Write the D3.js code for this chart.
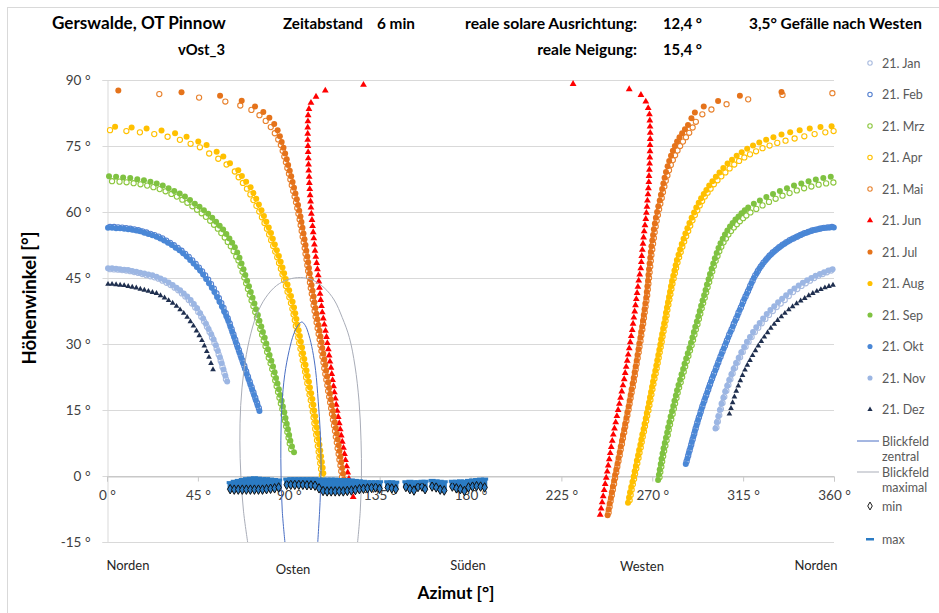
<!DOCTYPE html>
<html><head><meta charset="utf-8">
<script src="https://cdn.jsdelivr.net/npm/d3@7"></script>
<style>
body{margin:0;background:#fff;}
svg{display:block;font-family:Lato,"Open Sans",sans-serif;}
</style></head><body>
<svg id="chart" width="939" height="613"></svg>
<script>
// ---------- DATA (azimut °, höhenwinkel °) ----------
const xTicks = [0,45,90,135,180,225,270,315,360];
const yTicks = [-15,0,15,30,45,60,75,90];
const compass = ["Norden","Osten","Süden","Westen","Norden"];
const legendNames = ["21. Jan","21. Feb","21. Mrz","21. Apr","21. Mai","21. Jun","21. Jul","21. Aug","21. Sep","21. Okt","21. Nov","21. Dez","Blickfeld zentral","Blickfeld maximal","min","max"];

const jan = [[1.5,47.0],[3.5,46.95],[5.5,46.9],[7.5,46.8],[9.5,46.7],[11.5,46.55],[13.5,46.35],[15.5,46.15],[17.5,45.9],[19.5,45.65],[21.5,45.4],[23.5,45.15],[25.5,44.85],[27.5,44.4],[29.5,43.9],[31.5,43.4],[33.5,42.8],[35.3,42.2],[37.1,41.5],[38.8,40.8],[40.5,40.0],[42.1,39.2],[43.7,38.3],[45.2,37.3],[46.7,36.2],[48.1,35.1],[49.5,33.9],[50.8,32.7],[52.0,31.5],[53.2,30.2],[54.3,28.9],[55.3,27.6],[56.3,26.2],[57.2,24.8],[58.1,23.4],[58.9,22.0],
[301.8,11.0],[302.5,12.4],[303.2,13.8],[304.0,15.2],[304.8,16.6],[305.7,18.0],[306.7,19.4],[307.7,20.7],[308.7,22.0],[309.8,23.3],[311.0,24.6],[312.2,25.8],[313.5,27.0],[314.8,28.2],[316.2,29.4],[317.7,30.5],[319.2,31.6],[320.8,32.7],[322.5,33.7],[324.2,34.7],[326.0,35.7],[327.8,36.6],[329.7,37.5],[331.6,38.4],[333.6,39.2],[335.6,40.0],[337.6,40.9],[339.7,41.8],[341.8,42.5],[343.9,43.2],[346.0,43.8],[348.1,44.4],[350.2,45.0],[352.3,45.5],[354.4,45.9],[356.5,46.3],[358.6,46.7]];

const feb = [[1.5,56.6],[3.5,56.6],[5.5,56.5],[7.5,56.45],[9.5,56.35],[11.5,56.2],[13.5,56.05],[15.5,55.85],[17.5,55.6],[19.5,55.35],[21.5,55.05],[23.5,54.75],[25.5,54.4],[27.4,54.0],[29.3,53.5],[31.2,53.0],[33.1,52.45],[35.0,51.85],[36.9,51.2],[38.7,50.5],[40.5,49.8],[42.2,49.0],[43.9,48.2],[45.5,47.35],[47.1,46.5],[48.6,45.6],[50.1,44.6],[51.5,43.6],[52.9,42.6],[54.2,41.5],[55.4,40.4],[56.6,39.3],[57.7,38.2],[58.8,37.0],[59.8,35.8],[60.8,34.6],[61.7,33.4],[62.6,32.2],[63.5,31.0],[64.4,29.8],[65.3,28.6],[66.2,27.4],[67.1,26.2],[68.0,25.0],[68.9,23.8],[69.8,22.6],[70.7,21.4],[71.6,20.2],[72.5,19.0],[73.4,17.8],[74.3,16.6],[75.2,15.4],
[287.0,3.3],[287.8,4.6],[288.5,5.8],[289.3,7.1],[290.0,8.3],[290.8,9.6],[291.5,10.8],[292.3,12.1],[293.1,13.3],[294.0,14.6],[294.8,15.8],[295.8,17.1],[296.7,18.3],[297.7,19.6],[298.6,20.8],[299.6,22.1],[300.6,23.3],[301.7,24.6],[302.7,25.8],[303.8,27.1],[304.8,28.3],[306.0,29.6],[307.0,30.8],[308.1,32.1],[309.3,33.3],[310.4,34.6],[311.6,35.8],[312.7,37.1],[313.9,38.3],[315.0,39.6],[316.2,40.8],[317.4,42.0],[318.5,43.2],[319.7,44.4],[321.0,45.6],[322.3,46.6],[323.7,47.6],[325.1,48.5],[326.6,49.3],[328.1,50.1],[329.7,50.8],[331.3,51.4],[332.9,52.0],[334.6,52.6],[336.3,53.1],[338.1,53.6],[339.9,54.0],[341.7,54.4],[343.5,54.8],[345.4,55.2],[347.3,55.5],[349.2,55.8],[351.1,56.0],[353.0,56.2],[355.0,56.4],[357.0,56.5],[359.0,56.6]];

const mrz = [[2.5,67.0],[6.2,66.9],[9.7,66.75],[13.2,66.55],[16.6,66.3],[19.9,66.0],[23.0,65.65],[26.1,65.2],[29.0,64.7],[31.9,64.1],[34.6,63.5],[37.3,62.8],[39.8,62.1],[42.3,61.3],[44.6,60.5],[46.9,59.7],[49.0,58.9],[51.1,58.0],[53.0,57.1],[54.9,56.2],[56.6,55.2],[58.3,54.2],[59.8,53.2],[61.3,52.2],[62.7,51.1],[64.0,49.9],[65.1,49.0],[66.1,47.7],[67.1,46.4],[68.0,45.1],[68.9,43.8],[69.8,42.5],[70.7,41.2],[71.6,39.9],[72.5,38.6],[73.4,37.3],[74.2,36.0],[75.1,34.7],[75.9,33.4],[76.8,32.1],[77.6,30.8],[78.5,29.5],[79.3,28.2],[80.1,26.9],[81.0,25.6],[81.8,24.3],[82.6,23.0],[83.3,21.7],[84.0,20.4],[84.7,19.1],[85.4,17.8],[86.1,16.5],[86.8,15.2],[87.4,13.9],[88.1,12.6],[88.7,11.3],[89.3,10.0],[89.9,8.7],[90.5,7.4],[91.2,6.1],
[273.6,-0.3],[274.0,0.9],[274.5,2.1],[274.9,3.3],[275.4,4.5],[275.9,5.7],[276.5,6.9],[277.1,8.1],[277.7,9.3],[278.2,10.5],[278.8,11.7],[279.4,12.9],[280.1,14.1],[280.7,15.3],[281.3,16.5],[282.0,17.7],[282.6,18.9],[283.3,20.1],[284.1,21.3],[284.8,22.5],[285.6,23.7],[286.3,24.9],[287.1,26.1],[287.9,27.3],[288.7,28.5],[289.5,29.7],[290.2,30.9],[290.9,32.1],[291.6,33.3],[292.4,34.5],[293.1,35.7],[293.8,36.9],[294.5,38.1],[295.2,39.3],[296.0,40.5],[296.7,41.7],[297.4,42.9],[298.2,44.1],[298.9,45.3],[299.7,46.5],[300.5,47.7],[301.4,48.9],[302.3,50.0],[303.2,51.1],[304.2,52.1],[305.3,53.1],[306.5,54.0],[307.7,54.9],[309.0,55.7],[310.4,56.5],[311.9,57.2],[313.4,57.9],[315.0,58.6],[316.6,59.2],[318.6,59.9],[321.5,60.7],[324.6,61.5],[327.8,62.3],[331.1,63.0],[334.5,63.7],[338.0,64.3],[341.6,64.9],[345.2,65.4],[348.8,65.8],[352.4,66.2],[356.1,66.5],[359.7,66.7]];

const apr = [[1.5,78.6],[9.6,78.4],[16.3,78.1],[23.4,77.7],[30.0,77.1],[36.1,76.4],[41.4,75.5],[46.0,74.7],[50.6,73.3],[55.1,72.1],[59.2,70.8],[63.3,69.2],[65.2,67.9],[67.3,66.6],[69.3,65.3],[71.0,64.0],[72.5,62.7],[74.0,61.4],[75.4,60.1],[76.7,58.8],[78.0,57.5],[79.2,56.2],[80.3,54.9],[81.3,53.6],[82.3,52.3],[83.3,51.0],[84.3,49.7],[85.2,48.4],[86.1,47.1],[86.9,45.8],[87.7,44.5],[88.6,43.2],[89.4,41.9],[90.3,40.6],[91.1,39.3],[91.8,38.0],[92.4,36.7],[93.0,35.4],[93.5,34.1],[94.1,32.8],[94.7,31.5],[95.2,30.2],[95.8,28.9],[96.4,27.6],[96.9,26.3],[97.5,25.0],[98.1,23.7],[98.6,22.4],[99.2,21.1],[99.8,19.8],[100.3,18.5],[100.9,17.2],[101.4,15.9],[101.9,14.6],[102.3,13.3],[102.7,12.0],[103.1,10.7],[103.6,9.4],[104.0,8.1],[104.4,6.8],[104.8,5.5],[105.2,4.2],[105.6,2.9],[106.0,1.6],[106.4,0.3],
[258.8,-5.5],[259.3,-4.3],[259.8,-3.1],[260.4,-1.9],[261.0,-0.7],[261.5,0.5],[262.1,1.7],[262.6,2.9],[263.2,4.1],[263.7,5.3],[264.3,6.5],[264.8,7.7],[265.3,8.9],[265.9,10.1],[266.4,11.3],[267.0,12.5],[267.5,13.7],[268.1,14.9],[268.6,16.1],[269.1,17.3],[269.6,18.5],[270.1,19.7],[270.6,20.9],[271.1,22.1],[271.7,23.3],[272.2,24.5],[272.7,25.7],[273.2,26.9],[273.7,28.1],[274.2,29.3],[274.7,30.5],[275.1,31.7],[275.6,32.9],[276.1,34.1],[276.6,35.3],[277.1,36.5],[277.5,37.7],[278.0,38.9],[278.5,40.1],[279.0,41.3],[279.5,42.5],[280.0,43.7],[280.6,44.9],[281.2,46.1],[281.8,47.3],[282.5,48.5],[283.3,49.7],[284.1,50.9],[284.9,52.1],[285.8,53.3],[286.8,54.5],[287.8,55.7],[288.8,56.9],[289.9,58.1],[291.1,59.3],[292.3,60.4],[293.5,61.5],[294.7,62.5],[296.0,63.5],[297.4,64.4],[298.9,65.3],[300.5,66.3],[302.3,67.2],[304.2,68.1],[306.2,69.0],[308.3,69.9],[310.6,70.8],[313.0,71.6],[315.6,72.4],[318.4,73.1],[321.4,73.8],[324.6,74.5],[328.1,75.1],[331.9,75.7],[336.0,76.2],[340.5,76.7],[345.3,77.2],[350.4,77.7],[355.7,78.1],[359.8,78.4]];

const mai = [[25.9,86.8],[45.6,86.0],[58.6,85.1],[66.0,84.2],[71.5,83.2],[75.5,82.0],[78.6,80.7],[81.1,79.3],[83.1,77.9],[84.8,76.5],[86.1,75.2],[87.0,73.9],[87.8,72.6],[88.6,71.3],[89.3,70.0],[90.1,68.7],[90.8,67.4],[91.5,66.1],[92.2,64.8],[92.9,63.5],[93.6,62.2],[94.2,60.9],[94.8,59.6],[95.4,58.3],[95.9,57.0],[96.4,55.7],[96.9,54.4],[97.4,53.1],[97.9,51.8],[98.3,50.5],[98.8,49.2],[99.2,47.9],[99.6,46.6],[100.0,45.3],[100.5,44.0],[100.9,42.7],[101.4,41.4],[101.9,40.1],[102.3,38.8],[102.8,37.5],[103.3,36.2],[103.8,34.9],[104.3,33.6],[104.8,32.3],[105.3,31.0],[105.7,29.7],[106.2,28.4],[106.7,27.1],[107.2,25.8],[107.6,24.5],[108.1,23.2],[108.6,21.9],[109.1,20.6],[109.5,19.3],[110.0,18.0],[110.5,16.7],[111.0,15.4],[111.4,14.1],[111.9,12.8],[112.4,11.5],[112.9,10.2],[113.3,8.9],[113.8,7.6],[114.2,6.3],[114.7,5.0],[115.1,3.7],[115.6,2.4],[116.0,1.1],[116.4,-0.2],[116.8,-1.5],[117.2,-2.8],
[248.4,-8.3],[248.9,-7.0],[249.4,-5.7],[250.0,-4.4],[250.5,-3.1],[251.1,-1.8],[251.6,-0.5],[252.2,0.8],[252.7,2.1],[253.3,3.4],[253.9,4.7],[254.4,6.0],[255.0,7.3],[255.5,8.6],[256.1,9.9],[256.6,11.2],[257.2,12.5],[257.7,13.8],[258.3,15.1],[258.8,16.4],[259.3,17.7],[259.8,19.0],[260.4,20.3],[260.9,21.6],[261.4,22.9],[261.8,24.2],[262.3,25.5],[262.8,26.8],[263.3,28.1],[263.7,29.4],[264.2,30.7],[264.6,32.0],[265.1,33.3],[265.5,34.6],[265.9,35.9],[266.3,37.2],[266.7,38.5],[267.1,39.8],[267.5,41.1],[267.8,42.4],[268.1,43.7],[268.4,45.0],[268.7,46.3],[269.0,47.6],[269.3,48.9],[269.6,50.2],[270.0,51.5],[270.4,52.8],[270.8,54.1],[271.2,55.4],[271.7,56.7],[272.2,58.0],[272.8,59.3],[273.4,60.6],[274.0,61.9],[274.7,63.2],[275.3,64.5],[276.0,65.8],[276.7,67.1],[277.5,68.3],[278.3,69.5],[279.2,70.7],[280.2,71.8],[281.3,72.9],[282.5,74.0],[283.8,75.0],[285.2,76.0],[286.7,77.0],[288.3,78.0],[290.0,79.2],[291.6,80.5],[294.8,82.2],[299.3,83.3],[306.8,84.5],[317.5,85.6],[334.5,86.6],[359.2,87.0]];

const jun = [[127.0,88.9],[108.1,87.6],[103.5,86.2],[101.0,84.8],[100.0,83.4],[99.6,82.0],[99.5,80.6],[99.4,79.2],[99.4,77.8],[99.4,76.4],[99.5,75.0],[99.6,73.6],[99.7,72.2],[99.8,70.8],[99.9,69.4],[100.1,68.0],[100.2,66.6],[100.4,65.2],[100.6,63.8],[100.8,62.4],[101.0,61.0],[101.2,59.6],[101.5,58.2],[101.8,56.8],[102.1,55.4],[102.4,54.0],[102.7,52.6],[103.0,51.2],[103.4,49.8],[103.8,48.4],[104.2,47.0],[104.6,45.6],[104.9,44.2],[105.2,42.8],[105.5,41.4],[105.8,40.0],[106.2,38.6],[106.6,37.2],[107.1,35.8],[107.6,34.4],[108.2,33.0],[108.7,31.6],[109.1,30.2],[109.6,28.8],[110.0,27.4],[110.4,26.0],[110.9,24.6],[111.3,23.2],[111.7,21.8],[112.2,20.4],[112.6,19.0],[113.1,17.6],[113.5,16.2],[114.0,14.8],[114.5,13.4],[115.0,12.0],[115.5,10.6],[116.0,9.2],[116.5,7.8],[117.1,6.4],[117.6,5.0],[118.1,3.6],[118.7,2.2],[119.2,0.8],[119.8,-0.6],[120.5,-2.0],[121.2,-3.4],[121.9,-4.8],
[230.8,89.1],[258.6,87.9],[264.4,86.6],[266.8,85.1],[268.0,83.6],[268.6,82.2],[268.8,80.8],[268.9,79.4],[269.0,78.0],[269.0,76.6],[268.9,75.2],[268.9,73.8],[268.8,72.4],[268.7,71.0],[268.6,69.6],[268.4,68.2],[268.3,66.8],[268.1,65.4],[267.9,64.0],[267.6,62.6],[267.4,61.2],[267.1,59.8],[266.8,58.4],[266.4,57.0],[266.0,55.6],[265.7,54.2],[265.4,52.8],[265.1,51.4],[264.8,50.0],[264.6,48.6],[264.3,47.2],[263.8,45.8],[263.3,44.4],[262.9,43.0],[262.5,41.6],[262.1,40.2],[261.7,38.8],[261.3,37.4],[260.9,36.0],[260.5,34.6],[260.1,33.2],[259.6,31.8],[259.1,30.4],[258.6,29.0],[258.1,27.6],[257.6,26.2],[257.1,24.8],[256.6,23.4],[256.1,22.0],[255.5,20.6],[254.9,19.2],[254.3,17.8],[253.7,16.4],[253.1,15.0],[252.5,13.6],[251.9,12.2],[251.3,10.8],[250.7,9.4],[250.2,8.0],[249.7,6.6],[249.2,5.2],[248.7,3.8],[248.2,2.4],[247.7,1.0],[247.2,-0.4],[246.7,-1.8],[246.2,-3.2],[245.7,-4.6],[245.2,-6.0],[244.7,-7.4],[244.2,-8.8]];

const jul = [[5.6,87.6],[36.9,87.2],[56.0,86.4],[66.7,85.3],[73.3,84.0],[77.4,82.7],[80.4,81.4],[82.8,80.0],[84.5,78.6],[85.6,77.2],[86.5,75.9],[87.4,74.6],[88.2,73.3],[89.0,72.0],[89.7,70.7],[90.5,69.4],[91.2,68.1],[91.9,66.8],[92.6,65.5],[93.3,64.2],[94.0,62.9],[94.6,61.6],[95.2,60.3],[95.8,59.0],[96.3,57.7],[96.8,56.4],[97.3,55.1],[97.8,53.8],[98.3,52.5],[98.7,51.2],[99.2,49.9],[99.6,48.6],[100.0,47.3],[100.4,46.0],[100.9,44.7],[101.3,43.4],[101.8,42.1],[102.3,40.8],[102.7,39.5],[103.2,38.2],[103.7,36.9],[104.2,35.6],[104.7,34.3],[105.2,33.0],[105.7,31.7],[106.2,30.4],[106.6,29.1],[107.1,27.8],[107.6,26.5],[108.1,25.2],[108.5,23.9],[109.0,22.6],[109.5,21.3],[110.0,20.0],[110.4,18.7],[110.9,17.4],[111.4,16.1],[111.9,14.8],[112.3,13.5],[112.8,12.2],[113.3,10.9],[113.8,9.6],[114.2,8.3],[114.7,7.0],[115.1,5.7],[115.6,4.4],[116.0,3.1],[116.5,1.8],[116.9,0.5],[117.3,-0.8],[117.7,-2.1],[118.1,-3.4],
[247.9,-8.9],[248.4,-7.6],[248.9,-6.3],[249.5,-5.0],[250.0,-3.7],[250.5,-2.4],[251.1,-1.1],[251.6,0.2],[252.2,1.5],[252.8,2.8],[253.3,4.1],[253.9,5.4],[254.4,6.7],[255.0,8.0],[255.5,9.3],[256.1,10.6],[256.6,11.9],[257.2,13.2],[257.7,14.5],[258.3,15.8],[258.8,17.1],[259.3,18.4],[259.8,19.7],[260.3,21.0],[260.8,22.3],[261.3,23.6],[261.8,24.9],[262.3,26.2],[262.7,27.5],[263.2,28.8],[263.6,30.1],[264.1,31.4],[264.5,32.7],[265.0,34.0],[265.4,35.3],[265.8,36.6],[266.2,37.9],[266.6,39.2],[267.0,40.5],[267.3,41.8],[267.6,43.1],[267.9,44.4],[268.1,45.7],[268.4,47.0],[268.7,48.3],[269.0,49.6],[269.3,50.9],[269.6,52.2],[270.0,53.5],[270.4,54.8],[270.8,56.1],[271.3,57.4],[271.8,58.7],[272.4,60.0],[273.0,61.3],[273.7,62.6],[274.3,63.9],[274.9,65.2],[275.5,66.5],[276.1,67.8],[276.8,69.1],[277.6,70.4],[278.4,71.6],[279.3,72.8],[280.2,73.9],[281.2,75.0],[282.3,76.0],[283.5,77.0],[284.8,77.9],[286.2,78.8],[287.7,79.8],[289.4,81.3],[291.1,82.6],[295.5,84.0],[302.6,85.2],[313.4,86.4],[334.0,87.3]];

const aug = [[4.0,79.4],[12.2,79.2],[19.6,79.0],[27.0,78.5],[33.7,77.9],[39.4,77.1],[45.2,76.0],[49.3,75.2],[54.3,73.7],[57.6,72.6],[60.9,71.1],[65.0,69.5],[66.8,68.2],[68.9,66.9],[71.1,65.6],[72.5,64.3],[73.9,63.0],[75.2,61.7],[76.5,60.4],[77.7,59.1],[78.9,57.8],[80.1,56.5],[81.2,55.2],[82.1,53.9],[83.1,52.6],[84.1,51.3],[85.1,50.0],[86.0,48.7],[86.9,47.4],[87.7,46.1],[88.5,44.8],[89.4,43.5],[90.2,42.2],[91.1,40.9],[91.9,39.6],[92.6,38.3],[93.2,37.0],[93.8,35.7],[94.3,34.4],[94.9,33.1],[95.5,31.8],[96.0,30.5],[96.6,29.2],[97.1,27.9],[97.7,26.6],[98.3,25.3],[98.8,24.0],[99.4,22.7],[100.0,21.4],[100.5,20.1],[101.1,18.8],[101.7,17.5],[102.2,16.2],[102.6,14.9],[103.1,13.6],[103.5,12.3],[103.9,11.0],[104.3,9.7],[104.8,8.4],[105.2,7.1],[105.6,5.8],[106.0,4.5],[106.4,3.2],[106.8,1.9],[107.1,0.6],
[258.0,-6.1],[258.5,-4.9],[259.0,-3.7],[259.6,-2.5],[260.2,-1.3],[260.8,-0.1],[261.3,1.1],[261.9,2.3],[262.4,3.5],[263.0,4.7],[263.5,5.9],[264.1,7.1],[264.6,8.3],[265.1,9.5],[265.7,10.7],[266.2,11.9],[266.8,13.1],[267.3,14.3],[267.9,15.5],[268.4,16.7],[268.9,17.9],[269.4,19.1],[269.9,20.3],[270.4,21.5],[270.9,22.7],[271.5,23.9],[272.0,25.1],[272.5,26.3],[273.0,27.5],[273.5,28.7],[274.0,29.9],[274.4,31.1],[274.9,32.3],[275.4,33.5],[275.9,34.7],[276.4,35.9],[276.8,37.1],[277.3,38.3],[277.8,39.5],[278.3,40.7],[278.8,41.9],[279.3,43.1],[279.8,44.3],[280.4,45.5],[281.0,46.7],[281.6,47.9],[282.2,49.1],[283.0,50.3],[283.8,51.5],[284.6,52.7],[285.5,53.9],[286.4,55.1],[287.4,56.3],[288.4,57.5],[289.5,58.7],[290.7,59.9],[291.8,61.0],[293.0,62.1],[294.2,63.1],[295.5,64.1],[296.8,65.0],[298.2,66.0],[299.8,67.0],[301.5,68.0],[303.3,69.0],[305.2,70.0],[307.3,71.0],[309.5,71.9],[311.8,72.8],[314.3,73.6],[317.0,74.4],[319.9,75.1],[323.0,75.8],[326.4,76.4],[330.0,77.0],[334.0,77.6],[338.3,78.1],[343.0,78.6],[348.0,79.0],[353.3,79.3],[358.8,79.5]];

const sep = [[1.0,68.1],[4.5,68.0],[8.0,67.85],[11.5,67.7],[15.0,67.45],[18.3,67.2],[21.5,66.9],[24.6,66.5],[27.6,66.0],[30.5,65.4],[33.3,64.8],[36.0,64.2],[38.6,63.5],[41.1,62.7],[43.5,61.9],[45.8,61.2],[48.0,60.4],[50.1,59.6],[52.1,58.7],[54.0,57.8],[55.8,56.9],[57.5,56.0],[59.1,55.0],[60.6,54.0],[62.0,53.0],[63.3,52.0],[64.5,50.8],[65.6,49.6],[66.6,48.3],[67.6,47.0],[68.5,45.7],[69.4,44.4],[70.3,43.1],[71.2,41.8],[72.1,40.5],[73.0,39.2],[73.8,37.9],[74.7,36.6],[75.5,35.3],[76.4,34.0],[77.2,32.7],[78.1,31.4],[78.9,30.1],[79.7,28.8],[80.5,27.5],[81.4,26.2],[82.2,24.9],[83.0,23.6],[83.7,22.3],[84.4,21.0],[85.1,19.7],[85.8,18.4],[86.5,17.1],[87.1,15.8],[87.8,14.5],[88.4,13.2],[89.0,11.9],[89.6,10.6],[90.2,9.3],[90.8,8.0],[91.6,6.7],[92.6,5.4],
[272.9,-0.9],[273.3,0.3],[273.7,1.5],[274.2,2.7],[274.6,3.9],[275.1,5.1],[275.6,6.3],[276.2,7.5],[276.8,8.7],[277.4,9.9],[277.9,11.1],[278.5,12.3],[279.1,13.5],[279.8,14.7],[280.4,15.9],[281.0,17.1],[281.7,18.3],[282.3,19.5],[283.0,20.7],[283.8,21.9],[284.5,23.1],[285.3,24.3],[286.0,25.5],[286.8,26.7],[287.6,27.9],[288.4,29.1],[289.2,30.3],[289.9,31.5],[290.6,32.7],[291.3,33.9],[292.1,35.1],[292.8,36.3],[293.5,37.5],[294.2,38.7],[294.9,39.9],[295.7,41.1],[296.4,42.3],[297.1,43.5],[297.9,44.7],[298.6,45.9],[299.4,47.1],[300.2,48.3],[301.0,49.5],[301.9,50.7],[302.8,51.8],[303.8,52.9],[304.9,53.9],[306.0,54.9],[307.2,55.8],[308.5,56.7],[309.8,57.5],[311.2,58.3],[312.7,59.0],[314.2,59.7],[315.8,60.4],[317.5,61.0],[320.3,61.9],[323.3,62.6],[326.5,63.4],[329.8,64.1],[333.2,64.8],[336.7,65.4],[340.2,66.0],[343.8,66.5],[347.4,67.0],[351.0,67.4],[354.7,67.7],[358.4,68.0]];

const okt = [[0.5,56.4],[2.5,56.4],[4.5,56.3],[6.5,56.3],[8.5,56.2],[10.5,56.1],[12.5,55.95],[14.5,55.8],[16.5,55.6],[18.5,55.3],[20.5,55.0],[22.5,54.7],[24.5,54.4],[26.4,54.0],[28.3,53.5],[30.2,53.0],[32.1,52.5],[34.0,51.9],[35.9,51.3],[37.7,50.6],[39.5,49.9],[41.2,49.1],[42.9,48.3],[44.5,47.5],[46.1,46.7],[47.6,45.8],[49.1,44.8],[50.5,43.8],[51.9,42.8],[53.2,41.8],[54.5,40.7],[55.7,39.6],[56.9,38.5],[58.0,37.4],[59.1,36.3],[60.1,35.2],[61.1,34.0],[62.0,32.8],[62.9,31.6],[63.8,30.4],[64.7,29.2],[65.6,28.0],[66.5,26.8],[67.4,25.6],[68.3,24.4],[69.2,23.2],[70.1,22.0],[71.0,20.8],[71.9,19.6],[72.8,18.4],[73.7,17.2],[74.6,16.0],[75.5,14.8],
[286.6,2.7],[287.4,4.0],[288.1,5.2],[288.9,6.5],[289.6,7.7],[290.4,9.0],[291.1,10.2],[291.9,11.5],[292.7,12.7],[293.6,14.0],[294.4,15.2],[295.3,16.5],[296.2,17.7],[297.2,19.0],[298.1,20.2],[299.1,21.5],[300.1,22.7],[301.2,24.0],[302.2,25.2],[303.2,26.5],[304.3,27.7],[305.4,29.0],[306.5,30.2],[307.6,31.5],[308.7,32.7],[309.9,34.0],[311.0,35.2],[312.2,36.5],[313.3,37.7],[314.5,39.0],[315.6,40.2],[316.8,41.4],[318.0,42.6],[319.1,43.8],[320.3,45.0],[321.7,46.1],[323.0,47.1],[324.4,48.0],[325.9,48.9],[327.4,49.7],[328.9,50.4],[330.5,51.1],[332.1,51.7],[333.8,52.3],[335.5,52.8],[337.2,53.3],[339.0,53.8],[340.8,54.2],[342.6,54.6],[344.5,55.0],[346.4,55.3],[348.3,55.6],[350.2,55.9],[352.1,56.1],[354.0,56.3],[356.0,56.4],[358.0,56.5],[359.9,56.5]];

const nov = [[0.5,47.2],[2.5,47.2],[4.5,47.1],[6.5,47.0],[8.5,46.9],[10.5,46.8],[12.5,46.6],[14.5,46.4],[16.5,46.2],[18.5,46.0],[20.5,45.8],[22.5,45.6],[24.5,45.3],[26.5,44.9],[28.5,44.5],[30.5,44.0],[32.5,43.4],[34.4,42.8],[36.2,42.2],[38.0,41.5],[39.7,40.8],[41.4,40.0],[43.0,39.1],[44.6,38.1],[46.1,37.0],[47.6,35.8],[49.0,34.6],[50.3,33.4],[51.6,32.2],[52.8,31.0],[53.9,29.7],[54.9,28.4],[55.9,27.0],[56.8,25.6],[57.7,24.2],[58.6,22.8],[59.5,21.5],
[301.3,10.8],[302.0,12.2],[302.7,13.6],[303.5,15.0],[304.3,16.4],[305.2,17.8],[306.1,19.2],[307.1,20.5],[308.1,21.8],[309.2,23.1],[310.3,24.4],[311.5,25.7],[312.8,26.9],[314.1,28.1],[315.5,29.3],[316.9,30.5],[318.4,31.6],[319.9,32.7],[321.5,33.8],[323.2,34.8],[324.9,35.8],[326.7,36.8],[328.5,37.7],[330.4,38.6],[332.3,39.5],[334.3,40.3],[336.3,41.1],[338.3,41.9],[340.4,42.6],[342.5,43.3],[344.6,43.9],[346.7,44.5],[348.8,45.0],[350.9,45.5],[353.0,45.9],[355.1,46.3],[357.2,46.7],[359.3,47.0]];

const dez = [[0.5,43.6],[2.5,43.6],[4.5,43.5],[6.5,43.4],[8.5,43.3],[10.5,43.1],[12.5,42.95],[14.5,42.75],[16.5,42.5],[18.5,42.25],[20.5,42.0],[22.5,41.75],[24.5,41.5],[26.5,41.0],[28.5,40.5],[30.5,39.9],[32.5,39.3],[34.4,38.6],[36.2,37.8],[38.0,37.0],[39.7,36.1],[41.3,35.1],[42.8,34.1],[44.3,33.0],[45.7,31.9],[47.0,30.8],[48.2,29.6],[49.4,28.3],[50.5,27.0],[51.5,25.6],[52.5,24.2],
[308.2,14.1],[309.0,15.4],[309.8,16.7],[310.7,18.0],[311.6,19.3],[312.6,20.5],[313.6,21.7],[314.7,22.9],[315.9,24.1],[317.1,25.2],[318.4,26.3],[319.7,27.4],[321.1,28.5],[322.5,29.6],[324.0,30.6],[325.5,31.6],[327.1,32.6],[328.7,33.6],[330.4,34.5],[332.1,35.4],[333.9,36.2],[335.7,37.0],[337.6,37.8],[339.5,38.5],[341.5,39.2],[343.5,39.8],[345.5,40.4],[347.5,41.0],[349.5,41.5],[351.5,42.0],[353.5,42.4],[355.5,42.8],[357.5,43.1],[359.5,43.4]];

const blickZentral = [[88.2,-15.5],[86.8,-8],[86.2,0],[86.1,8],[86.6,16],[88.0,23],[90.2,28.5],[92.5,32.3],[95.0,34.5],[96.5,35.0],[98.2,34.2],[100.0,32.0],[101.8,28.5],[103.3,24.0],[104.6,17.0],[105.6,10.0],[106.0,2.0],[105.5,-6.0],[104.3,-15.5]];
const blickMaximal = [[69.8,-15.5],[67.6,-8],[66.3,0],[65.8,8],[66.2,16],[67.8,24],[70.5,31],[74.0,36.5],[78.5,40.5],[84.0,43.3],[90.0,44.7],[95.8,45.1],[101.5,44.6],[107.5,42.8],[112.5,40.0],[116.5,36.0],[120.0,31.5],[122.8,25.0],[124.8,17.0],[125.8,8.0],[126.0,0],[125.4,-8],[124.0,-15.5]];

// horizon strip: [azimut, max, min]
const horizon = [[61,-1.5,-3.0],[63,-1.2,-3.1],[65,-1.0,-3.1],[67,-0.8,-3.1],[69,-0.6,-3.1],[71,-0.5,-3.1],[73,-0.4,-3.1],[75,-0.5,-3.1],[77,-0.6,-3.1],[79,-0.6,-3.0],[81,-0.7,-2.9],[83,-0.8,-2.8],[85,-0.9,-2.6],
[89,-0.7,-2.0],[91,-0.6,-2.0],[93,-0.6,-2.0],[95,-0.6,-2.0],[97,-0.6,-2.0],[99,-0.6,-2.1],[101,-0.6,-2.1],[103,-0.6,-2.2],[105,-0.7,-2.8],[107,-0.7,-3.4],[109,-0.7,-3.5],[111,-0.7,-3.5],[113,-0.7,-3.5],[115,-0.8,-3.5],[117,-0.8,-3.5],[119,-0.8,-3.4],[121,-0.9,-3.3],[123,-1.0,-3.2],[125,-1.1,-3.0],[127,-1.2,-2.9],[129,-1.3,-2.8],[131,-1.3,-2.7],[133,-1.3,-2.6],[135,-1.3,-2.9],
[139,-1.3,-2.6],[141,-1.3,-2.8],[143,-1.4,-3.0],[148,-1.3,-2.5],[150,-1.2,-3.0],[152,-1.3,-3.3],[154,-1.3,-2.5],[156,-1.2,-2.4],[157.5,-1.2,-3.0],[161,-1.0,-2.4],[163,-1.1,-2.6],[165,-1.2,-3.1],[167,-1.3,-3.3],[171,-1.2,-2.4],[173,-1.2,-2.8],[175,-1.1,-3.0],[177,-1.2,-3.4],[179,-1.0,-2.6],[181,-0.9,-2.4],[183,-0.8,-2.3],[185,-0.7,-2.4],[187,-0.7,-2.6]];

// ---------- CHART ----------
const svg = d3.select("#chart");
const x = d3.scaleLinear().domain([0,360]).range([107,834]);
const y = d3.scaleLinear().domain([-15,90]).range([542,80]);

svg.append("rect").attr("x",7.5).attr("y",7.5).attr("width",940).attr("height",620)
  .attr("fill","#fff").attr("stroke","#d9d9d9");

svg.append("defs").append("clipPath").attr("id","plot")
  .append("rect").attr("x",x(0)).attr("y",y(90)).attr("width",x(360)-x(0)).attr("height",y(-15)-y(90));

// gridlines
svg.append("g").selectAll("line").data(yTicks).join("line")
  .attr("x1",x(0)).attr("x2",x(360)).attr("y1",d=>y(d)+0.5).attr("y2",d=>y(d)+0.5)
  .attr("stroke",d=>d===0?"#c8c8c8":"#d9d9d9").attr("stroke-width",1);

// y axis
const yAxis = svg.append("g").attr("transform",`translate(${x(0)+0.5},0)`)
  .call(d3.axisLeft(y).tickValues(yTicks).tickFormat(d=>d+" °").tickSize(5).tickPadding(12));
yAxis.select(".domain").attr("stroke","#d9d9d9");
yAxis.selectAll(".tick line").attr("stroke","#d9d9d9");
yAxis.selectAll("text").attr("font-size",13.5).attr("fill","#404040").attr("font-family","Lato");

// x axis at 0°
const xAxis = svg.append("g").attr("transform",`translate(0,${y(0)+0.5})`)
  .call(d3.axisBottom(x).tickValues(xTicks).tickFormat(d=>d+" °").tickSize(5).tickPadding(9));
xAxis.select(".domain").attr("stroke","#c8c8c8");
xAxis.selectAll(".tick line").attr("stroke","#c8c8c8");
xAxis.selectAll("text").attr("font-size",13.5).attr("fill","#404040").attr("font-family","Lato");

// series
const seriesDefs = [
  {name:legendNames[0], data:jan, sym:"circle", hollow:true, color:"#a9bbdf"},
  {name:legendNames[1], data:feb, sym:"circle", hollow:true, color:"#5580d0"},
  {name:legendNames[2], data:mrz, sym:"circle", hollow:true, color:"#8cc63e"},
  {name:legendNames[3], data:apr, sym:"circle", hollow:true, color:"#ffc000"},
  {name:legendNames[4], data:mai, sym:"circle", hollow:true, color:"#e8822e"},
  {name:legendNames[5], data:jun, sym:"triangle", color:"#ff0000", size:20},
  {name:legendNames[6], data:jul, sym:"circle", color:"#e5731b"},
  {name:legendNames[7], data:aug, sym:"circle", color:"#ffc000"},
  {name:legendNames[8], data:sep, sym:"circle", color:"#7fc241"},
  {name:legendNames[9], data:okt, sym:"circle", color:"#4a87d6"},
  {name:legendNames[10], data:nov, sym:"circle", color:"#9cb6e3"},
  {name:legendNames[11], data:dez, sym:"triangle", color:"#1f2f4f", size:14},
];

function drawMarker(g, def, px, py, scale){
  scale = scale||1;
  if(def.sym==="triangle"){
    g.append("path").attr("d",d3.symbol(d3.symbolTriangle, (def.size||18)*scale)())
      .attr("transform",`translate(${px},${py})`).attr("fill",def.color);
  } else if(def.hollow){
    g.append("circle").attr("cx",px).attr("cy",py).attr("r",2.6*scale)
      .attr("fill","#fff").attr("stroke",def.color).attr("stroke-width",1.1);
  } else {
    g.append("circle").attr("cx",px).attr("cy",py).attr("r",3.0*scale).attr("fill",def.color);
  }
}

const marks = svg.append("g");
seriesDefs.forEach(def=>{
  const g = marks.append("g");
  def.data.forEach(p=>drawMarker(g, def, x(p[0]), y(p[1])));
});

// Blickfeld lines
const line = d3.line().x(d=>x(d[0])).y(d=>y(d[1])).curve(d3.curveCatmullRom.alpha(0.5));
const lines = svg.append("g").attr("clip-path","url(#plot)");
lines.append("path").datum(blickZentral).attr("d",line).attr("fill","none").attr("stroke","#4a6fc4").attr("stroke-width",1);
lines.append("path").datum(blickMaximal).attr("d",line).attr("fill","none").attr("stroke","#a9adb8").attr("stroke-width",1);

// horizon strip (min / max)
const band = svg.append("g");
band.selectAll("rect.body").data(horizon).join("rect").attr("class","body")
  .attr("x",d=>x(d[0])-2.6).attr("width",5.2)
  .attr("y",d=>y(d[1])).attr("height",d=>y(d[2])-y(d[1]))
  .attr("fill","#2b7bc4");
band.selectAll("path.min").data(horizon).join("path").attr("class","min")
  .attr("d",d3.symbol(d3.symbolDiamond,26)())
  .attr("transform",d=>`translate(${x(d[0])},${y(d[2])})`)
  .attr("fill","#2b7bc4").attr("stroke","#111").attr("stroke-width",1);
band.selectAll("rect.max").data(horizon).join("rect").attr("class","max")
  .attr("x",d=>x(d[0])-3.5).attr("width",7).attr("y",d=>y(d[1])-1.5).attr("height",3)
  .attr("fill","#2b7bc4");

// texts helper
function txt(str, px, py, opts){
  opts = opts||{};
  const t = svg.append("text").attr("x",px).attr("y",py).text(str)
    .attr("font-size",opts.size||14).attr("font-weight",opts.bold?"bold":"normal")
    .attr("fill",opts.color||"#000").attr("text-anchor",opts.anchor||"start");
  if(opts.width){
    const l = t.node().getComputedTextLength();
    t.attr("font-size",(opts.size||14)*opts.width/l);
  }
  return t;
}

// header
txt("Gerswalde, OT Pinnow",52,29,{bold:true,size:16,width:174});
txt("Zeitabstand",283,29,{bold:true,size:14,width:80});
txt("6 min",377,29,{bold:true,size:14,width:38});
txt("reale solare Ausrichtung:",637,29,{bold:true,size:14,width:172,anchor:"end"});
txt("12,4 °",663,29,{bold:true,size:14,width:39});
txt("3,5° Gefälle nach Westen",749,29,{bold:true,size:14,width:173});
txt("vOst_3",225,55,{bold:true,size:14,width:47,anchor:"end"});
txt("reale Neigung:",637,55,{bold:true,size:14,width:100,anchor:"end"});
txt("15,4 °",663,55,{bold:true,size:14,width:39});

// compass labels
const compassX = [128,293,468,642,816];
const compassY = [570,574,570,571,570];
compass.forEach((c,i)=>txt(c,compassX[i],compassY[i],{size:13,color:"#262626",anchor:"middle"}));

// axis titles
txt("Azimut [°]",456,599,{bold:true,size:16,width:77,anchor:"middle"});
const yt = svg.append("text").attr("transform","translate(36,298) rotate(-90)")
  .attr("text-anchor","middle").attr("font-weight","bold").attr("font-size",16).text("Höhenwinkel [°]");
{ const l = yt.node().getComputedTextLength(); yt.attr("font-size",16*133/l); }

// legend
const lg = svg.append("g");
const lx = 870, tx = 882;
function ltext(str, py){ lg.append("text").attr("x",tx).attr("y",py).attr("font-size",12.5).attr("fill","#595959").text(str); }
seriesDefs.forEach((def,i)=>{
  const ly = 63 + i*31.5;
  drawMarker(lg, def, lx, ly, 0.85);
  ltext(def.name, ly+4.5);
});
// Blickfeld zentral
lg.append("line").attr("x1",857).attr("x2",879).attr("y1",441).attr("y2",441).attr("stroke","#4a6fc4");
ltext("Blickfeld",445.5);
ltext("zentral",460.5);
// Blickfeld maximal
lg.append("line").attr("x1",857).attr("x2",879).attr("y1",472).attr("y2",472).attr("stroke","#a9adb8");
ltext("Blickfeld",476.5);
ltext("maximal",491.5);
// min
lg.append("path").attr("d",d3.symbol(d3.symbolDiamond,18)()).attr("transform","translate(870,506)")
  .attr("fill","#fff").attr("stroke","#1a1a1a").attr("stroke-width",1);
ltext("min",510.5);
// max
lg.append("rect").attr("x",866).attr("y",538).attr("width",8).attr("height",2.5).attr("fill","#2b7bc4");
ltext("max",543.5);
</script>
</body></html>
